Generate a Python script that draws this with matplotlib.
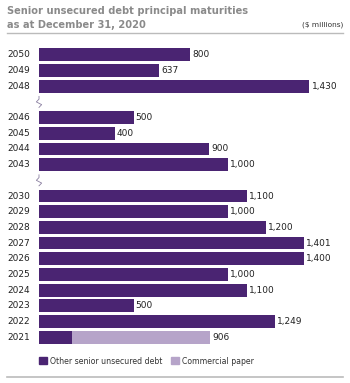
import numpy as np
import matplotlib.pyplot as plt
from matplotlib.patches import Patch
from matplotlib.transforms import blended_transform_factory

years = ['2050', '2049', '2048', '2046', '2045', '2044', '2043',
         '2030', '2029', '2028', '2027', '2026', '2025', '2024', '2023', '2022', '2021']
other_debt = [800, 637, 1430, 500, 400, 900, 1000,
              1100, 1000, 1200, 1401, 1400, 1000, 1100, 500, 1249, 175]
commercial = [0, 0, 0, 0, 0, 0, 0,
              0, 0, 0, 0, 0, 0, 0, 0, 0, 731]
totals = ['800', '637', '1,430', '500', '400', '900', '1,000',
          '1,100', '1,000', '1,200', '1,401', '1,400', '1,000', '1,100', '500', '1,249', '906']
# slots 3 and 8 are left empty for the axis breaks
slots = [0, 1, 2, 4, 5, 6, 7, 9, 10, 11, 12, 13, 14, 15, 16, 17, 18]
breaks = [3, 8]

dark = '#4a2472'
light = '#b6a4c9'
W, H = 350, 383

fig = plt.figure(figsize=(W / 100, H / 100), dpi=100)
ax = fig.add_axes([39 / W, 1 - 345 / H, 1 - 39 / W, 298 / H])
ax.set_xlim(0, 311 / 0.189)
ax.set_ylim(18.5, -0.5)
ax.axis('off')

other = np.array(other_debt)
ax.barh(slots, other, height=0.82, color=dark)
ax.barh(slots, commercial, left=other, height=0.82, color=light)

lab = blended_transform_factory(fig.transFigure, ax.transData)
for s, y, v, c, t in zip(slots, years, other_debt, commercial, totals):
    ax.text(7 / W, s, y, transform=lab, ha='left', va='center', fontsize=6.5, color='#222222')
    ax.text(v + c + 12, s, t, ha='left', va='center', fontsize=6.5, color='#222222')

# little squiggle marking the gaps in the year axis
for b in breaks:
    yy = np.linspace(b - 0.35, b + 0.35, 5)
    xx = np.array([0, 0, -14, 14, 0])
    ax.plot(xx, yy, color='#8a7fa0', lw=0.6, clip_on=False)

fig.text(7 / W, 1 - 11 / H, 'Senior unsecured debt principal maturities',
         fontsize=7.1, fontweight='bold', color='#8a8a8a', va='center')
fig.text(7 / W, 1 - 25 / H, 'as at December 31, 2020',
         fontsize=7.1, fontweight='bold', color='#8a8a8a', va='center')
fig.text(343 / W, 1 - 25 / H, '($ millions)', fontsize=5.3, color='#333333',
         ha='right', va='center')
fig.add_artist(plt.Line2D([7 / W, 343 / W], [1 - 33 / H, 1 - 33 / H], color='#bbbbbb', lw=1))
fig.add_artist(plt.Line2D([7 / W, 343 / W], [1 - 377 / H, 1 - 377 / H], color='#bbbbbb', lw=1.2))

handles = [Patch(color=dark, label='Other senior unsecured debt'),
           Patch(color=light, label='Commercial paper')]
fig.legend(handles=handles, loc='center left', bbox_to_anchor=(32 / W, 1 - 361 / H),
           ncol=2, frameon=False, fontsize=5.6, handlelength=1.0, handleheight=1.0,
           handletextpad=0.4, columnspacing=1.1, labelcolor='#333333')

fig.savefig('out.png', dpi=100)
